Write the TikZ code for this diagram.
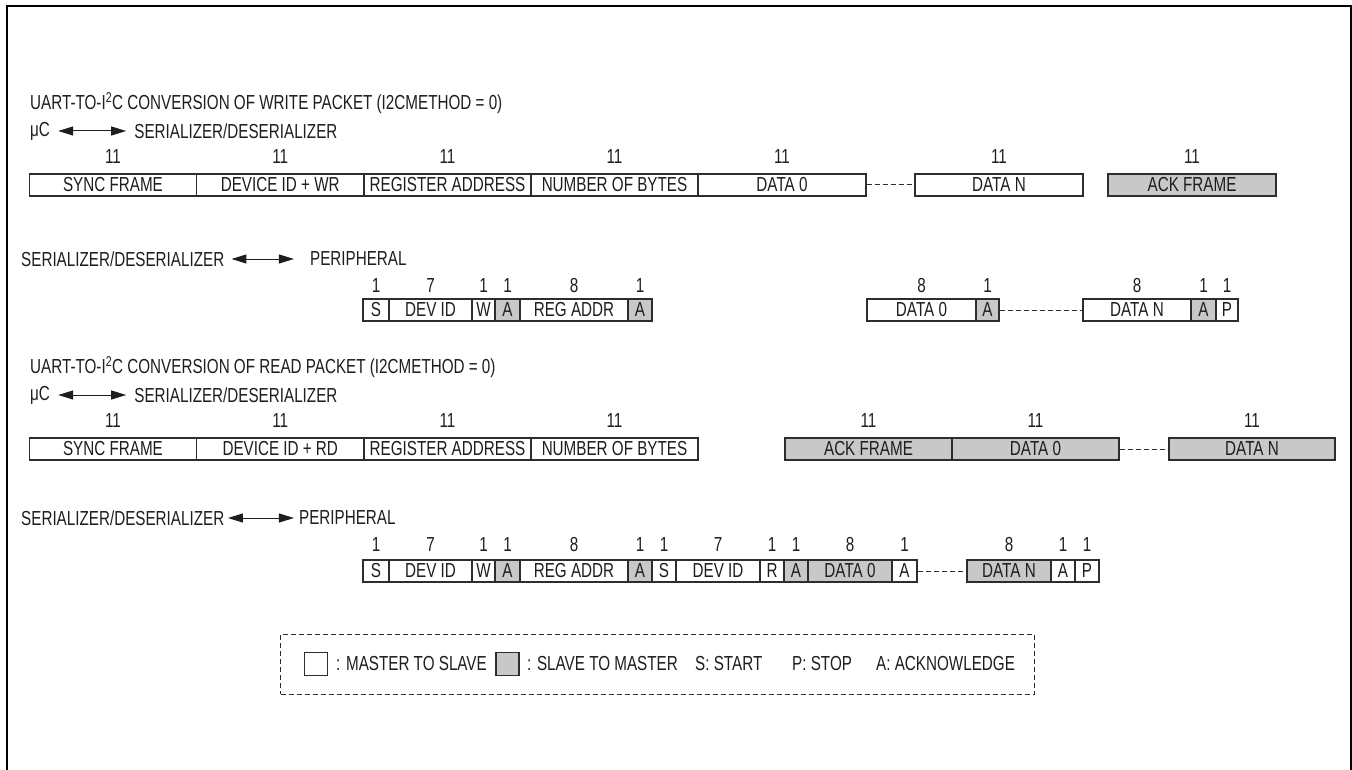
\documentclass[tikz,border=0pt]{standalone}
\usepackage{fontspec}
\setmainfont[FakeStretch=0.75]{Liberation Sans}
\usetikzlibrary{arrows.meta,positioning}
\definecolor{grayfill}{RGB}{200,200,200}
\definecolor{ink}{RGB}{30,30,30}
\definecolor{edge}{RGB}{45,45,45}
\newcommand\fld[8]{%
  \node[#5, minimum width={(#3)-(#2)}] (#1) at ({((#2)+(#3))/2},#4) {#6};
  \node[num] (#1n) at ({((#2)+(#3))/2},#8) {#7};}
\begin{document}
\begin{tikzpicture}[x=1pt,y=-1pt,
  txt/.style={font=\fontsize{20.3}{23}\selectfont, text=ink, inner sep=0pt},
  lbl/.style={txt, anchor=west},
  num/.style={txt},
  cell/.style={draw=edge, line width=1.3pt, inner sep=0pt, minimum height=22pt, txt},
  ms/.style={cell, fill=white},
  sm/.style={cell, fill=grayfill},
  dots/.style={draw=edge, line width=1pt, dash pattern=on 5pt off 3pt},
  dir/.style={draw=ink, line width=1pt, {Triangle[length=15pt,width=9pt]}-{Triangle[length=15pt,width=9pt]}},
  swatch/.style={draw=edge, line width=1.3pt, minimum width=23pt, minimum height=23pt, inner sep=0pt},
]
\useasboundingbox (0,0) rectangle (1352,770);
\draw[line width=2pt, black] (7,770) -- (7,6.5) -- (1350.5,6.5) -- (1350.5,770);

% ---------- write packet, uC <-> SER/DES
\node[lbl] (t1) at (30,103) {UART-TO-I\textsuperscript{2}C CONVERSION OF WRITE PACKET (I2CMETHOD = 0)};
\node[lbl] (mu1) at (30,131) {μC};
\node[lbl, right=84pt of mu1] (sd1) {SERIALIZER/DESERIALIZER};
\draw[dir, shorten <=8pt, shorten >=8pt] (mu1.east) -- (sd1.west);

\fld{a1}{29.5}{196.5}{185}{ms}{SYNC FRAME}{11}{157}
\fld{a2}{196.5}{364}{185}{ms}{DEVICE ID + WR}{11}{157}
\fld{a3}{364}{531}{185}{ms}{REGISTER ADDRESS}{11}{157}
\fld{a4}{531}{698}{185}{ms}{NUMBER OF BYTES}{11}{157}
\fld{a5}{698}{866}{185}{ms}{DATA 0}{11}{157}
\fld{a6}{915}{1083}{185}{ms}{DATA N}{11}{157}
\fld{a7}{1108}{1276}{185}{sm}{ACK FRAME}{11}{157}
\draw[dots] (a5.east) -- (a6.west);

% ---------- write packet, SER/DES <-> peripheral
\node[lbl] (sd2) at (21,259) {SERIALIZER/DESERIALIZER};
\node[lbl, right=85.5pt of sd2] (pe2) {PERIPHERAL};
\draw[dir, shorten <=7pt, shorten >=16pt] (sd2.east) -- (pe2.west);

\fld{b1}{363}{389}{310}{ms}{S}{1}{286}
\fld{b2}{389}{472}{310}{ms}{DEV ID}{7}{286}
\fld{b3}{472}{495}{310}{ms}{W}{1}{286}
\fld{b4}{495}{520}{310}{sm}{A}{1}{286}
\fld{b5}{520}{628}{310}{ms}{REG ADDR}{8}{286}
\fld{b6}{628}{652}{310}{sm}{A}{1}{286}
\fld{b7}{867}{976}{310}{ms}{DATA 0}{8}{286}
\fld{b8}{976}{999}{310}{sm}{A}{1}{286}
\fld{b9}{1083}{1191}{310}{ms}{DATA N}{8}{286}
\fld{b10}{1191}{1216}{310}{sm}{A}{1}{286}
\fld{b11}{1216}{1238}{310}{ms}{P}{1}{286}
\draw[dots] (b8.east) -- (b9.west);

% ---------- read packet, uC <-> SER/DES
\node[lbl] (t2) at (30,367) {UART-TO-I\textsuperscript{2}C CONVERSION OF READ PACKET (I2CMETHOD = 0)};
\node[lbl] (mu2) at (30,395) {μC};
\node[lbl, right=84pt of mu2] (sd3) {SERIALIZER/DESERIALIZER};
\draw[dir, shorten <=8pt, shorten >=8pt] (mu2.east) -- (sd3.west);

\fld{c1}{29.5}{196.5}{449}{ms}{SYNC FRAME}{11}{421}
\fld{c2}{196.5}{364}{449}{ms}{DEVICE ID + RD}{11}{421}
\fld{c3}{364}{531}{449}{ms}{REGISTER ADDRESS}{11}{421}
\fld{c4}{531}{698}{449}{ms}{NUMBER OF BYTES}{11}{421}
\fld{c5}{785}{952}{449}{sm}{ACK FRAME}{11}{421}
\fld{c6}{952}{1119}{449}{sm}{DATA 0}{11}{421}
\fld{c7}{1169}{1335}{449}{sm}{DATA N}{11}{421}
\draw[dots] (c6.east) -- (c7.west);

% ---------- read packet, SER/DES <-> peripheral
\node[lbl] (sd4) at (21,518) {SERIALIZER/DESERIALIZER};
\node[lbl, right=74.5pt of sd4] (pe4) {PERIPHERAL};
\draw[dir, shorten <=3.5pt, shorten >=5pt] (sd4.east) -- (pe4.west);

\fld{d1}{363}{389}{571}{ms}{S}{1}{545}
\fld{d2}{389}{472}{571}{ms}{DEV ID}{7}{545}
\fld{d3}{472}{495}{571}{ms}{W}{1}{545}
\fld{d4}{495}{520}{571}{sm}{A}{1}{545}
\fld{d5}{520}{628}{571}{ms}{REG ADDR}{8}{545}
\fld{d6}{628}{652}{571}{sm}{A}{1}{545}
\fld{d7}{652}{676}{571}{ms}{S}{1}{545}
\fld{d8}{676}{760}{571}{ms}{DEV ID}{7}{545}
\fld{d9}{760}{784}{571}{ms}{R}{1}{545}
\fld{d10}{784}{808}{571}{sm}{A}{1}{545}
\fld{d11}{808}{892}{571}{sm}{DATA 0}{8}{545}
\fld{d12}{892}{917}{571}{ms}{A}{1}{545}
\fld{d13}{967}{1051}{571}{sm}{DATA N}{8}{545}
\fld{d14}{1051}{1075}{571}{ms}{A}{1}{545}
\fld{d15}{1075}{1099}{571}{ms}{P}{1}{545}
\draw[dots] (d12.east) -- (d13.west);

% ---------- legend
\node[draw=edge, line width=1pt, dash pattern=on 5pt off 3pt, minimum width=753.5pt, minimum height=60pt, inner sep=0pt] (leg) at (657.5,664) {};
\node[swatch, fill=white] (lw) at (316,664) {};
\node[lbl] (lwt) at (336,664) {: MASTER TO SLAVE};
\node[swatch, fill=grayfill] (lg) at (507.5,664) {};
\node[lbl] (lgt) at (527,664) {: SLAVE TO MASTER};
\node[lbl] (ls) at (695,664) {S: START};
\node[lbl] (lp) at (792,664) {P: STOP};
\node[lbl] (la) at (876,664) {A: ACKNOWLEDGE};
\end{tikzpicture}
\end{document}
